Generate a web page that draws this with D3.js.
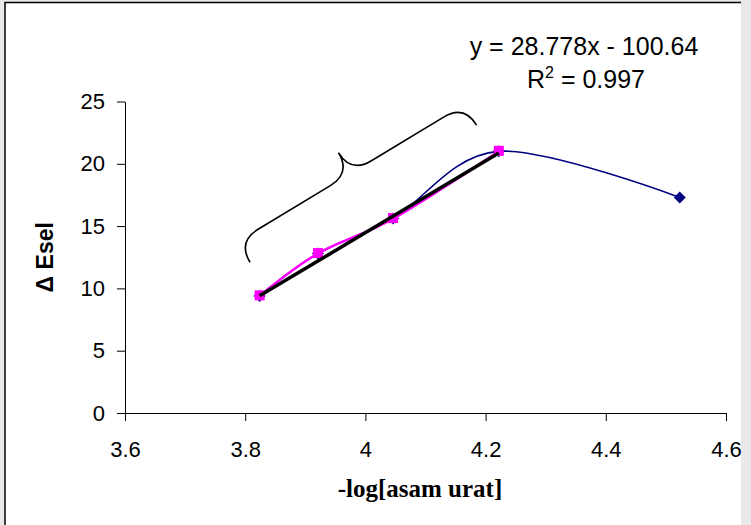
<!DOCTYPE html>
<html>
<head>
<meta charset="utf-8">
<script src="https://cdn.jsdelivr.net/npm/d3@7"></script>
<style>
  body { margin: 0; background: #e9e9e9; }
  svg { display: block; }
</style>
</head>
<body>
<svg width="751" height="525"></svg>
<script>
// data
const logConc = [3.824, 3.921, 4.046, 4.222, 4.523];   // -log[asam urat]
const eselAll = [9.4, 12.8, 15.6, 21.0, 17.3];         // navy series (all points)
const logConcLin = [3.824, 3.921, 4.046, 4.222];       // magenta series (linear part)
const eselLin = [9.4, 12.8, 15.6, 21.0];
const trendSlope = 28.778, trendIntercept = -100.64, trendR2 = 0.997;
const xTicks = [3.6, 3.8, 4, 4.2, 4.4, 4.6];
const yTicks = [0, 5, 10, 15, 20, 25];
// brace annotation, ends given in data units
const braceStart = [3.808, 12.1], braceEnd = [4.185, 23.1];

const svg = d3.select("svg");
const width = +svg.attr("width"), height = +svg.attr("height");

// white page with the frame line on left and top
svg.append("rect").attr("x", 5).attr("y", 2.5).attr("width", 736).attr("height", height)
    .attr("fill", "#fff");
svg.append("path").attr("d", "M5,525V2.5H741").attr("fill", "none")
    .attr("stroke", "#000").attr("stroke-width", 1.5);

const x = d3.scaleLinear().domain([3.6, 4.6]).range([125, 726]);
const y = d3.scaleLinear().domain([0, 25]).range([413, 101.5]);

const font = "'Liberation Sans', Arial, sans-serif";

// axes
const gx = svg.append("g")
    .attr("transform", `translate(0,${y(0)})`)
    .call(d3.axisBottom(x).tickValues(xTicks).tickFormat(d3.format("")).tickSize(8).tickSizeOuter(0).tickPadding(20));
const gy = svg.append("g")
    .attr("transform", `translate(${x(3.6)},0)`)
    .call(d3.axisLeft(y).tickValues(yTicks).tickSize(8).tickSizeOuter(0).tickPadding(12));

[gx, gy].forEach(g => {
  g.selectAll("text").attr("font-family", font).attr("font-size", 22).attr("fill", "#000");
  g.selectAll("line, path").attr("stroke", "#000");
});

// axis titles
svg.append("text")
    .attr("x", 420)
    .attr("y", 497)
    .attr("text-anchor", "middle")
    .attr("font-family", "'Liberation Serif', 'Times New Roman', serif")
    .attr("font-weight", "bold")
    .attr("font-size", 25)
    .text("-log[asam urat]");

svg.append("text")
    .attr("transform", `translate(53,${(y(0) + y(25)) / 2}) rotate(-90)`)
    .attr("text-anchor", "middle")
    .attr("font-family", font)
    .attr("font-weight", "bold")
    .attr("font-size", 23)
    .text("\u0394 Esel");

// navy smoothed series with diamonds
const allPts = logConc.map((v, i) => [v, eselAll[i]]);
const linPts = logConcLin.map((v, i) => [v, eselLin[i]]);

const smooth = d3.line().x(d => x(d[0])).y(d => y(d[1])).curve(d3.curveCardinal.tension(0));

svg.append("path")
    .attr("d", smooth(allPts))
    .attr("fill", "none")
    .attr("stroke", "#000080")
    .attr("stroke-width", 1.6);

svg.selectAll(".dia")
    .data(allPts)
    .enter().append("path")
    .attr("class", "dia")
    .attr("d", d3.symbol().type(d3.symbolSquare).size(72))
    .attr("transform", d => `translate(${x(d[0])},${y(d[1])}) rotate(45)`)
    .attr("fill", "#000080");

// magenta smoothed series with squares
svg.append("path")
    .attr("d", smooth(linPts))
    .attr("fill", "none")
    .attr("stroke", "#ff00ff")
    .attr("stroke-width", 2.5);

svg.selectAll(".sq")
    .data(linPts)
    .enter().append("rect")
    .attr("class", "sq")
    .attr("x", d => x(d[0]) - 5)
    .attr("y", d => y(d[1]) - 5.5)
    .attr("width", 10)
    .attr("height", 10)
    .attr("fill", "#ff00ff");

// linear trendline over the magenta points
const xr = d3.extent(logConcLin);
svg.append("path")
    .attr("d", d3.line().x(d => x(d)).y(d => y(trendSlope * d + trendIntercept))(xr))
    .attr("fill", "none")
    .attr("stroke", "#000")
    .attr("stroke-width", 3.5);

// trendline equation
const eq = svg.append("g").attr("font-family", font).attr("font-size", 25).attr("text-anchor", "middle");
eq.append("text").attr("x", 584).attr("y", 55)
    .text(`y = ${trendSlope}x - ${-trendIntercept}`);
const r2 = eq.append("text").attr("x", 586).attr("y", 88);
r2.append("tspan").text("R");
r2.append("tspan").attr("font-size", 16).attr("dy", -10).text("2");
r2.append("tspan").attr("dy", 10).text(` = ${trendR2}`);

// curly brace
const a = [x(braceStart[0]), y(braceStart[1])], b = [x(braceEnd[0]), y(braceEnd[1])];
const L = Math.hypot(b[0] - a[0], b[1] - a[1]);
const ang = Math.atan2(b[1] - a[1], b[0] - a[0]) * 180 / Math.PI;
const h = 48, q = 24;
const brace = d3.path();
brace.moveTo(0, 0);
brace.quadraticCurveTo(0, -h / 2, q, -h / 2);
brace.lineTo(L / 2 - q, -h / 2);
brace.quadraticCurveTo(L / 2, -h / 2, L / 2, -h);
brace.quadraticCurveTo(L / 2, -h / 2, L / 2 + q, -h / 2);
brace.lineTo(L - q, -h / 2);
brace.quadraticCurveTo(L, -h / 2, L, 0);
svg.append("path")
    .attr("transform", `translate(${a[0]},${a[1]}) rotate(${ang})`)
    .attr("d", brace.toString())
    .attr("fill", "none")
    .attr("stroke", "#000")
    .attr("stroke-width", 1.6);
</script>
</body>
</html>
